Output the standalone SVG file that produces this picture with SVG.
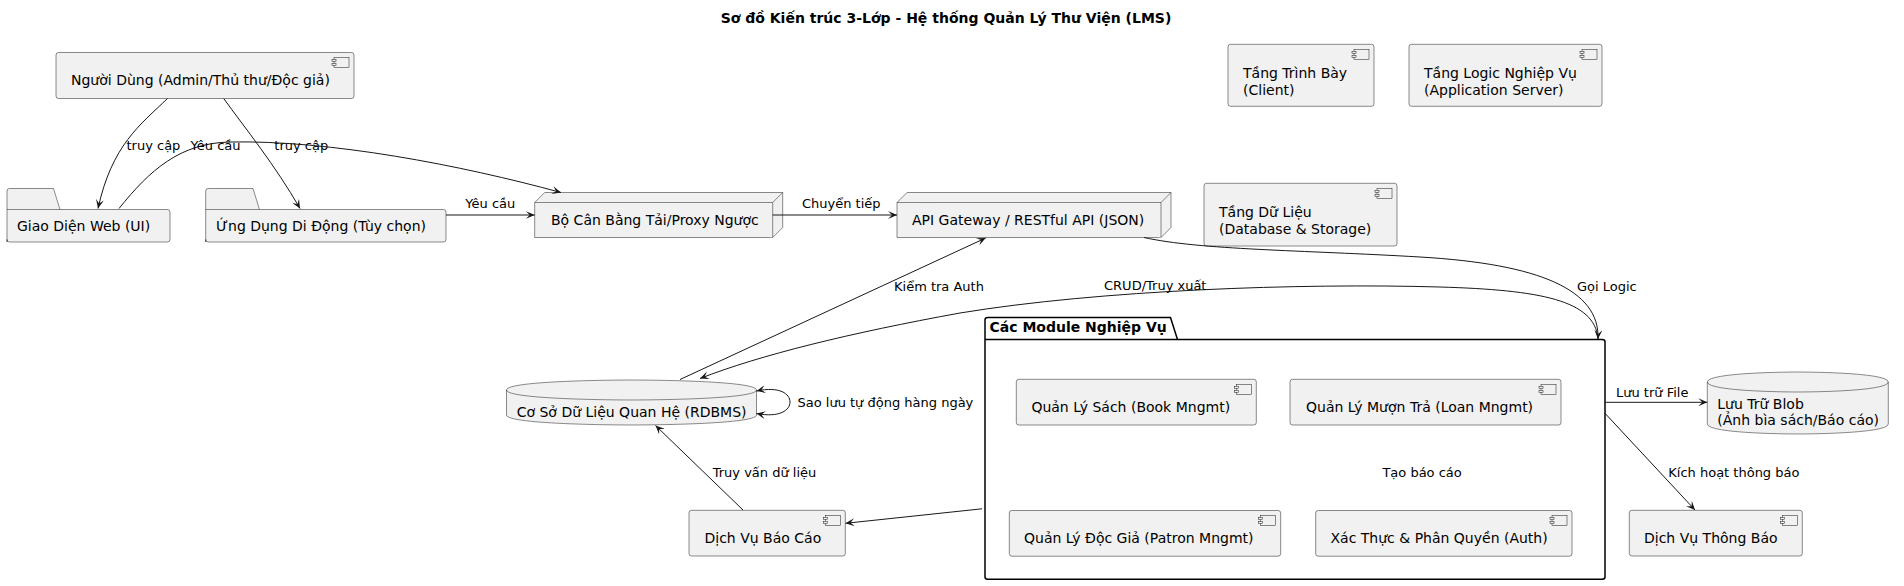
<svg xmlns="http://www.w3.org/2000/svg" xmlns:xlink="http://www.w3.org/1999/xlink" width="1904" height="586" viewBox="0 0 1904 586">
<style>
.n{fill:#F1F1F1;stroke:#181818;stroke-width:0.5}
.pk{fill:none;stroke:#000000;stroke-width:1.5}
.e{fill:none;stroke:#181818;stroke-width:1}
.t{font-family:"DejaVu Sans","Liberation Sans",sans-serif;font-size:14px;fill:#000000}
.l{font-family:"DejaVu Sans","Liberation Sans",sans-serif;font-size:13px;fill:#000000}
.b{font-family:"DejaVu Sans","Liberation Sans",sans-serif;font-size:14px;font-weight:bold;fill:#000000}
</style>
<defs>
<marker id="ah" markerWidth="10" markerHeight="8" refX="9" refY="4" orient="auto-start-reverse" markerUnits="userSpaceOnUse"><path d="M0,0 L9,4 L0,8 L4,4 Z" fill="#181818"/></marker>
<g id="ci" class="n"><rect x="0" y="0" width="15" height="10"/><rect x="-2" y="2" width="4" height="2"/><rect x="-2" y="6" width="4" height="2"/></g>
</defs>
<rect width="1904" height="586" fill="#FFFFFF"/>
<text class="b" x="946" y="23" text-anchor="middle">Sơ đồ Kiến trúc 3-Lớp - Hệ thống Quản Lý Thư Viện (LMS)</text>

<g id="pkg-modules">
<path class="pk" d="M985,339.5 L985,320 Q985,317.5 987.5,317.5 L1170.5,317.5 L1177.5,339.5 L1602.5,339.5 Q1605,339.5 1605,342 L1605,576.8 Q1605,579.3 1602.5,579.3 L987.5,579.3 Q985,579.3 985,576.8 Z"/>
<path class="pk" d="M985,339.5 L1177.5,339.5"/>
<text class="b" x="989.5" y="332">Các Module Nghiệp Vụ</text>
</g>

<g id="user">
<rect class="n" x="56" y="52.5" width="298" height="46" rx="2.5"/>
<use xlink:href="#ci" href="#ci" x="334" y="57.5"/>
<text class="t" x="71" y="84.5">Người Dùng (Admin/Thủ thư/Độc giả)</text>
</g>

<g id="web">
<path class="n" d="M7,242 L7,191 Q7,188.5 9.5,188.5 L53.5,188.5 L60,209.5 L167.5,209.5 Q170,209.5 170,212 L170,239.5 Q170,242 167.5,242 L9.5,242 Q7,242 7,239.5 Z"/>
<path class="n" d="M7,209.5 L60,209.5"/>
<text class="t" x="17" y="230.5">Giao Diện Web (UI)</text>
</g>

<g id="mobile">
<path class="n" d="M205.7,242 L205.7,191 Q205.7,188.5 208.2,188.5 L253,188.5 L259.5,209.5 L443.5,209.5 Q446,209.5 446,212 L446,239.5 Q446,242 443.5,242 L208.2,242 Q205.7,242 205.7,239.5 Z"/>
<path class="n" d="M205.7,209.5 L259.5,209.5"/>
<text class="t" x="216" y="230.5">Ứng Dụng Di Động (Tùy chọn)</text>
</g>

<g id="lb">
<polygon class="n" points="534.7,202.5 544.7,192.5 782.7,192.5 782.7,227.5 772.7,237.5 534.7,237.5"/>
<path class="n" d="M772.7,202.5 L782.7,192.5 M534.7,202.5 L772.7,202.5 L772.7,237.5"/>
<text class="t" x="551" y="225">Bộ Cân Bằng Tải/Proxy Ngược</text>
</g>

<g id="api">
<polygon class="n" points="897,202.5 907,192.5 1171,192.5 1171,227.5 1161,237.5 897,237.5"/>
<path class="n" d="M1161,202.5 L1171,192.5 M897,202.5 L1161,202.5 L1161,237.5"/>
<text class="t" x="912" y="225">API Gateway / RESTful API (JSON)</text>
</g>

<g id="tier-presentation">
<rect class="n" x="1228" y="44.3" width="146" height="62" rx="2.5"/>
<use xlink:href="#ci" href="#ci" x="1354" y="49.3"/>
<text class="t" x="1243" y="78.3">Tầng Trình Bày</text>
<text class="t" x="1243" y="94.6">(Client)</text>
</g>

<g id="tier-logic">
<rect class="n" x="1409" y="44.3" width="193" height="62" rx="2.5"/>
<use xlink:href="#ci" href="#ci" x="1582" y="49.3"/>
<text class="t" x="1424" y="78.3">Tầng Logic Nghiệp Vụ</text>
<text class="t" x="1424" y="94.6">(Application Server)</text>
</g>

<g id="tier-data">
<rect class="n" x="1204" y="183.3" width="193" height="62.7" rx="2.5"/>
<use xlink:href="#ci" href="#ci" x="1377" y="188.3"/>
<text class="t" x="1219" y="217.3">Tầng Dữ Liệu</text>
<text class="t" x="1219" y="233.6">(Database &amp; Storage)</text>
</g>

<g id="book">
<rect class="n" x="1016.3" y="379.3" width="240" height="45.7" rx="2.5"/>
<use xlink:href="#ci" href="#ci" x="1236.3" y="384.3"/>
<text class="t" x="1031.4" y="411.5">Quản Lý Sách (Book Mngmt)</text>
</g>

<g id="loan">
<rect class="n" x="1290" y="379.3" width="271" height="45.7" rx="2.5"/>
<use xlink:href="#ci" href="#ci" x="1541" y="384.3"/>
<text class="t" x="1306" y="411.5">Quản Lý Mượn Trả (Loan Mngmt)</text>
</g>

<g id="patron">
<rect class="n" x="1009.3" y="510.5" width="271.4" height="45.7" rx="2.5"/>
<use xlink:href="#ci" href="#ci" x="1260.7" y="515.5"/>
<text class="t" x="1024" y="542.8">Quản Lý Độc Giả (Patron Mngmt)</text>
</g>

<g id="auth">
<rect class="n" x="1315.7" y="510.5" width="256.3" height="45.7" rx="2.5"/>
<use xlink:href="#ci" href="#ci" x="1552" y="515.5"/>
<text class="t" x="1330.5" y="542.8">Xác Thực &amp; Phân Quyền (Auth)</text>
</g>

<g id="rdbms">
<path class="n" d="M506.5,390 C506.5,380 631.5,380 631.5,380 C631.5,380 756.5,380 756.5,390 L756.5,415 C756.5,425 631.5,425 631.5,425 C631.5,425 506.5,425 506.5,415 Z"/>
<path class="n" fill="none" d="M506.5,390 C506.5,400 631.5,400 631.5,400 C631.5,400 756.5,400 756.5,390" style="fill:none"/>
<text class="t" x="516.7" y="417">Cơ Sở Dữ Liệu Quan Hệ (RDBMS)</text>
</g>

<g id="report">
<rect class="n" x="689" y="510.3" width="156.3" height="45.7" rx="2.5"/>
<use xlink:href="#ci" href="#ci" x="825.3" y="515.3"/>
<text class="t" x="704.5" y="542.6">Dịch Vụ Báo Cáo</text>
</g>

<g id="blob">
<path class="n" d="M1707.3,382 C1707.3,372 1797.8,372 1797.8,372 C1797.8,372 1888.3,372 1888.3,382 L1888.3,424 C1888.3,434 1797.8,434 1797.8,434 C1797.8,434 1707.3,434 1707.3,424 Z"/>
<path class="n" d="M1707.3,382 C1707.3,392 1797.8,392 1797.8,392 C1797.8,392 1888.3,392 1888.3,382" style="fill:none"/>
<text class="t" x="1717.3" y="409">Lưu Trữ Blob</text>
<text class="t" x="1717.3" y="425.3">(Ảnh bìa sách/Báo cáo)</text>
</g>

<g id="notify">
<rect class="n" x="1629.3" y="510.3" width="173" height="45.7" rx="2.5"/>
<use xlink:href="#ci" href="#ci" x="1782.3" y="515.3"/>
<text class="t" x="1644" y="542.6">Dịch Vụ Thông Báo</text>
</g>

<g id="connectors">
<path class="e" marker-end="url(#ah)" d="M167.5,98.5 C140,125 112,145 98,208.5"/>
<text class="l" x="126.5" y="149.5">truy cập</text>
<path class="e" marker-end="url(#ah)" d="M223.7,98.5 C245,128 275,165 300,208.5"/>
<text class="l" x="274.3" y="149.5">truy cập</text>
<path class="e" marker-end="url(#ah)" d="M119,208.5 C150,170 180,143 230,142 C330,140 460,165 561,192.5"/>
<text class="l" x="190.6" y="149.5">Yêu cầu</text>
<path class="e" marker-end="url(#ah)" d="M446,215 L534.7,215"/>
<text class="l" x="465.3" y="208">Yêu cầu</text>
<path class="e" marker-end="url(#ah)" d="M772.7,215 L897,215"/>
<text class="l" x="802" y="208">Chuyển tiếp</text>
<path class="e" marker-end="url(#ah)" d="M1144,237.5 C1200,250 1300,250 1420,257 C1540,264 1600,290 1598,339"/>
<text class="l" x="1577" y="290.5">Gọi Logic</text>
<path class="e" marker-end="url(#ah)" d="M1598,339 C1595,300 1540,290 1440,287 C1300,283 1100,290 960,313 C850,333 760,355 700,378.5"/>
<text class="l" x="1104" y="289.5">CRUD/Truy xuất</text>
<path class="e" marker-end="url(#ah)" d="M680,379.5 L985.7,238"/>
<text class="l" x="894" y="290.5">Kiểm tra Auth</text>
<path class="e" marker-start="url(#ah)" marker-end="url(#ah)" d="M756.5,391 C780,386 790,394 790,402 C790,410 780,418 756.5,413.5"/>
<text class="l" x="797.5" y="407">Sao lưu tự động hàng ngày</text>
<path class="e" marker-end="url(#ah)" d="M743,510 L655.5,425.5"/>
<text class="l" x="712.7" y="476.5">Truy vấn dữ liệu</text>
<path class="e" marker-end="url(#ah)" d="M982,508.8 L845.5,523.3"/>
<text class="l" x="1382.4" y="476.5">Tạo báo cáo</text>
<path class="e" marker-end="url(#ah)" d="M1605,402.3 L1707.3,402.3"/>
<text class="l" x="1616" y="397">Lưu trữ File</text>
<path class="e" marker-end="url(#ah)" d="M1605,413.3 L1695,510"/>
<text class="l" x="1668.3" y="476.5">Kích hoạt thông báo</text>
</g>
</svg>
